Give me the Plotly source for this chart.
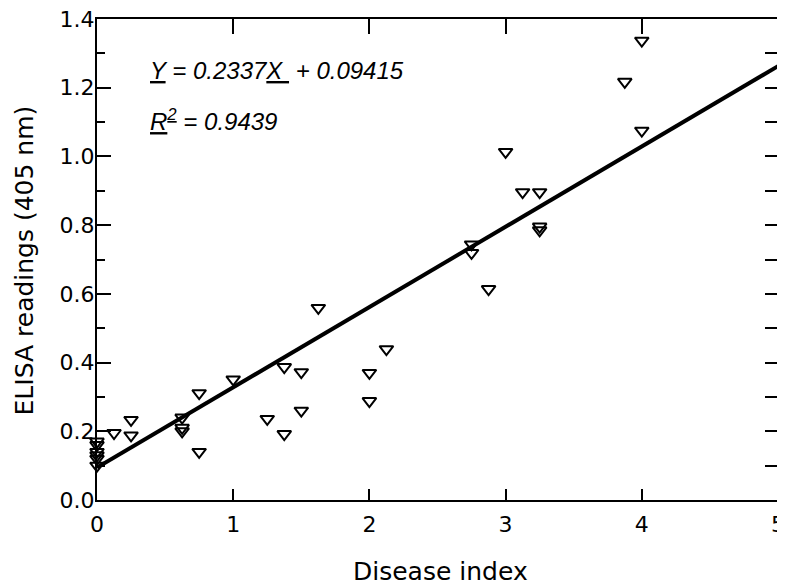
import plotly.graph_objects as go

# Data
disease_index = [0, 0, 0, 0, 0, 0,
                 0.125, 0.25, 0.25,
                 0.625, 0.625, 0.625,
                 0.75, 0.75, 1.0,
                 1.25, 1.375, 1.375,
                 1.5, 1.5, 1.625,
                 2.0, 2.0, 2.125,
                 2.75, 2.75, 2.875,
                 3.0, 3.125, 3.25, 3.25, 3.25,
                 3.875, 4.0, 4.0]
elisa = [0.17, 0.16, 0.14, 0.13, 0.12, 0.10,
         0.195, 0.233, 0.188,
         0.24, 0.21, 0.20,
         0.311, 0.14, 0.351,
         0.236, 0.387, 0.192,
         0.372, 0.26, 0.559,
         0.37, 0.288, 0.439,
         0.744, 0.719, 0.614,
         1.013, 0.896, 0.896, 0.796, 0.785,
         1.217, 1.337, 1.075]

slope = 0.2337
intercept = 0.09415
fit_x = [0, 5]

x_ticks = [0, 1, 2, 3, 4, 5]
x_ticklabels = ["0", "1", "2", "3", "4", "5"]
x_inner_ticks = [1, 2, 3, 4]
y_ticks = [0.0, 0.2, 0.4, 0.6, 0.8, 1.0, 1.2, 1.4]
y_ticklabels = ["0.0", "0.2", "0.4", "0.6", "0.8", "1.0", "1.2", "1.4"]
y_inner_ticks = [0.2, 0.4, 0.6, 0.8, 1.0, 1.2]
y_minor_ticks = [0.1, 0.3, 0.5, 0.7, 0.9, 1.1, 1.3]
y_all_inner_ticks = [0.1, 0.2, 0.3, 0.4, 0.5, 0.6, 0.7, 0.8, 0.9, 1.0, 1.1, 1.2, 1.3]

eq_text = "<i><u>Y</u> = 0.2337<u>X </u> + 0.09415</i>"
r2_text = "<i><u>R<sup>2</sup></u> = 0.9439</i>"
x_title = "Disease index"
y_title = "ELISA readings (405 nm)"

fig = go.Figure()
fig.add_trace(go.Scatter(
    x=fit_x, y=[slope * v + intercept for v in fit_x],
    mode="lines", line=dict(color="black", width=4),
    showlegend=False, hoverinfo="skip"))
fig.add_trace(go.Scatter(
    x=disease_index, y=elisa, mode="markers",
    marker=dict(symbol="triangle-down-open", size=12, color="black",
                line=dict(color="black", width=2)),
    cliponaxis=False, showlegend=False))
# empty traces so that the tick-only overlay axes get drawn
for xa, ya in [("x2", "y2"), ("x2", "y3"), ("x3", "y4"), ("x4", "y5"), ("x4", "y6")]:
    fig.add_trace(go.Scatter(x=[None], y=[None], xaxis=xa, yaxis=ya,
                             showlegend=False, hoverinfo="skip"))

fig.add_annotation(x=0.374, y=1.251, xref="x", yref="y", text=eq_text,
                   showarrow=False, xanchor="left", yanchor="middle",
                   font=dict(family="Liberation Sans, Arial", size=24, color="black"))
fig.add_annotation(x=0.374, y=1.106, xref="x", yref="y", text=r2_text,
                   showarrow=False, xanchor="left", yanchor="middle",
                   font=dict(family="Liberation Sans, Arial", size=24, color="black"))

tick_font = dict(family="DejaVu Sans", size=22, color="black")
title_font = dict(family="DejaVu Sans", size=25, color="black")

# axis titles
fig.add_annotation(x=0.504, y=0, xref="paper", yref="paper", text=x_title,
                   showarrow=False, xanchor="center", yanchor="middle", yshift=-71,
                   font=title_font)
fig.add_annotation(x=0, y=0.498, xref="paper", yref="paper", text=y_title,
                   showarrow=False, xanchor="center", yanchor="middle", xshift=-73,
                   textangle=-90, font=title_font)

frame = dict(showline=True, linecolor="black", linewidth=2, mirror=True,
             showgrid=False, zeroline=False, automargin=False, ticks="",
             ticklabeloverflow="allow")
tickonly = dict(showticklabels=False, showline=False, showgrid=False, zeroline=False,
                automargin=False, tickwidth=2, tickcolor="black", tickmode="array")

fig.update_layout(
    width=777, height=574, margin=dict(l=89, r=7, t=11, b=82),
    plot_bgcolor="white", paper_bgcolor="white",
    xaxis=dict(range=[0, 5], tickmode="array", tickvals=x_ticks, ticktext=x_ticklabels,
               tickfont=tick_font, ticklabelstandoff=4, **frame),
    yaxis=dict(range=[0, 1.4], tickmode="array", tickvals=y_ticks, ticktext=y_ticklabels,
               tickfont=tick_font, ticklabelstandoff=-4, **frame),
    # inside ticks (fallback)
    xaxis2=dict(range=[0, 5], overlaying="x", anchor="y2", side="bottom",
                tickvals=x_inner_ticks, ticklen=6, ticks="inside", mirror="ticks",
                **tickonly),
    yaxis2=dict(range=[0, 1.4], overlaying="y", anchor="x2", side="left",
                tickvals=y_inner_ticks, ticklen=10, ticks="inside", mirror="ticks",
                **tickonly),
    yaxis3=dict(range=[0, 1.4], overlaying="y", anchor="x2", side="left",
                tickvals=y_minor_ticks, ticklen=5, ticks="inside", mirror="ticks",
                **tickonly),
    # bottom edge: free axis at the bottom, labels side top -> outside ticks point up
    xaxis3=dict(range=[0, 5], overlaying="x", anchor="free", position=0.0,
                side="top", tickvals=x_inner_ticks, ticklen=11, ticks="outside",
                **tickonly),
    # top edge: free axis at the top, side bottom -> outside ticks point down
    xaxis4=dict(range=[0, 5], overlaying="x", anchor="free", position=1.0,
                side="bottom", tickvals=x_inner_ticks, ticklen=14, ticks="outside",
                **tickonly),
    # left edge majors, pointing right into the plot
    yaxis4=dict(range=[0, 1.4], overlaying="y", anchor="free", position=0.0,
                side="right", tickvals=y_inner_ticks, ticklen=13, ticks="outside",
                **tickonly),
    # left edge minors
    yaxis5=dict(range=[0, 1.4], overlaying="y", anchor="free", position=0.0,
                side="right", tickvals=y_minor_ticks, ticklen=7, ticks="outside",
                **tickonly),
    # right edge, all ticks pointing left into the plot
    yaxis6=dict(range=[0, 1.4], overlaying="y", anchor="free", position=1.0,
                side="left", tickvals=y_all_inner_ticks, ticklen=13, ticks="outside",
                **tickonly),
)

fig.write_html("out.html")
